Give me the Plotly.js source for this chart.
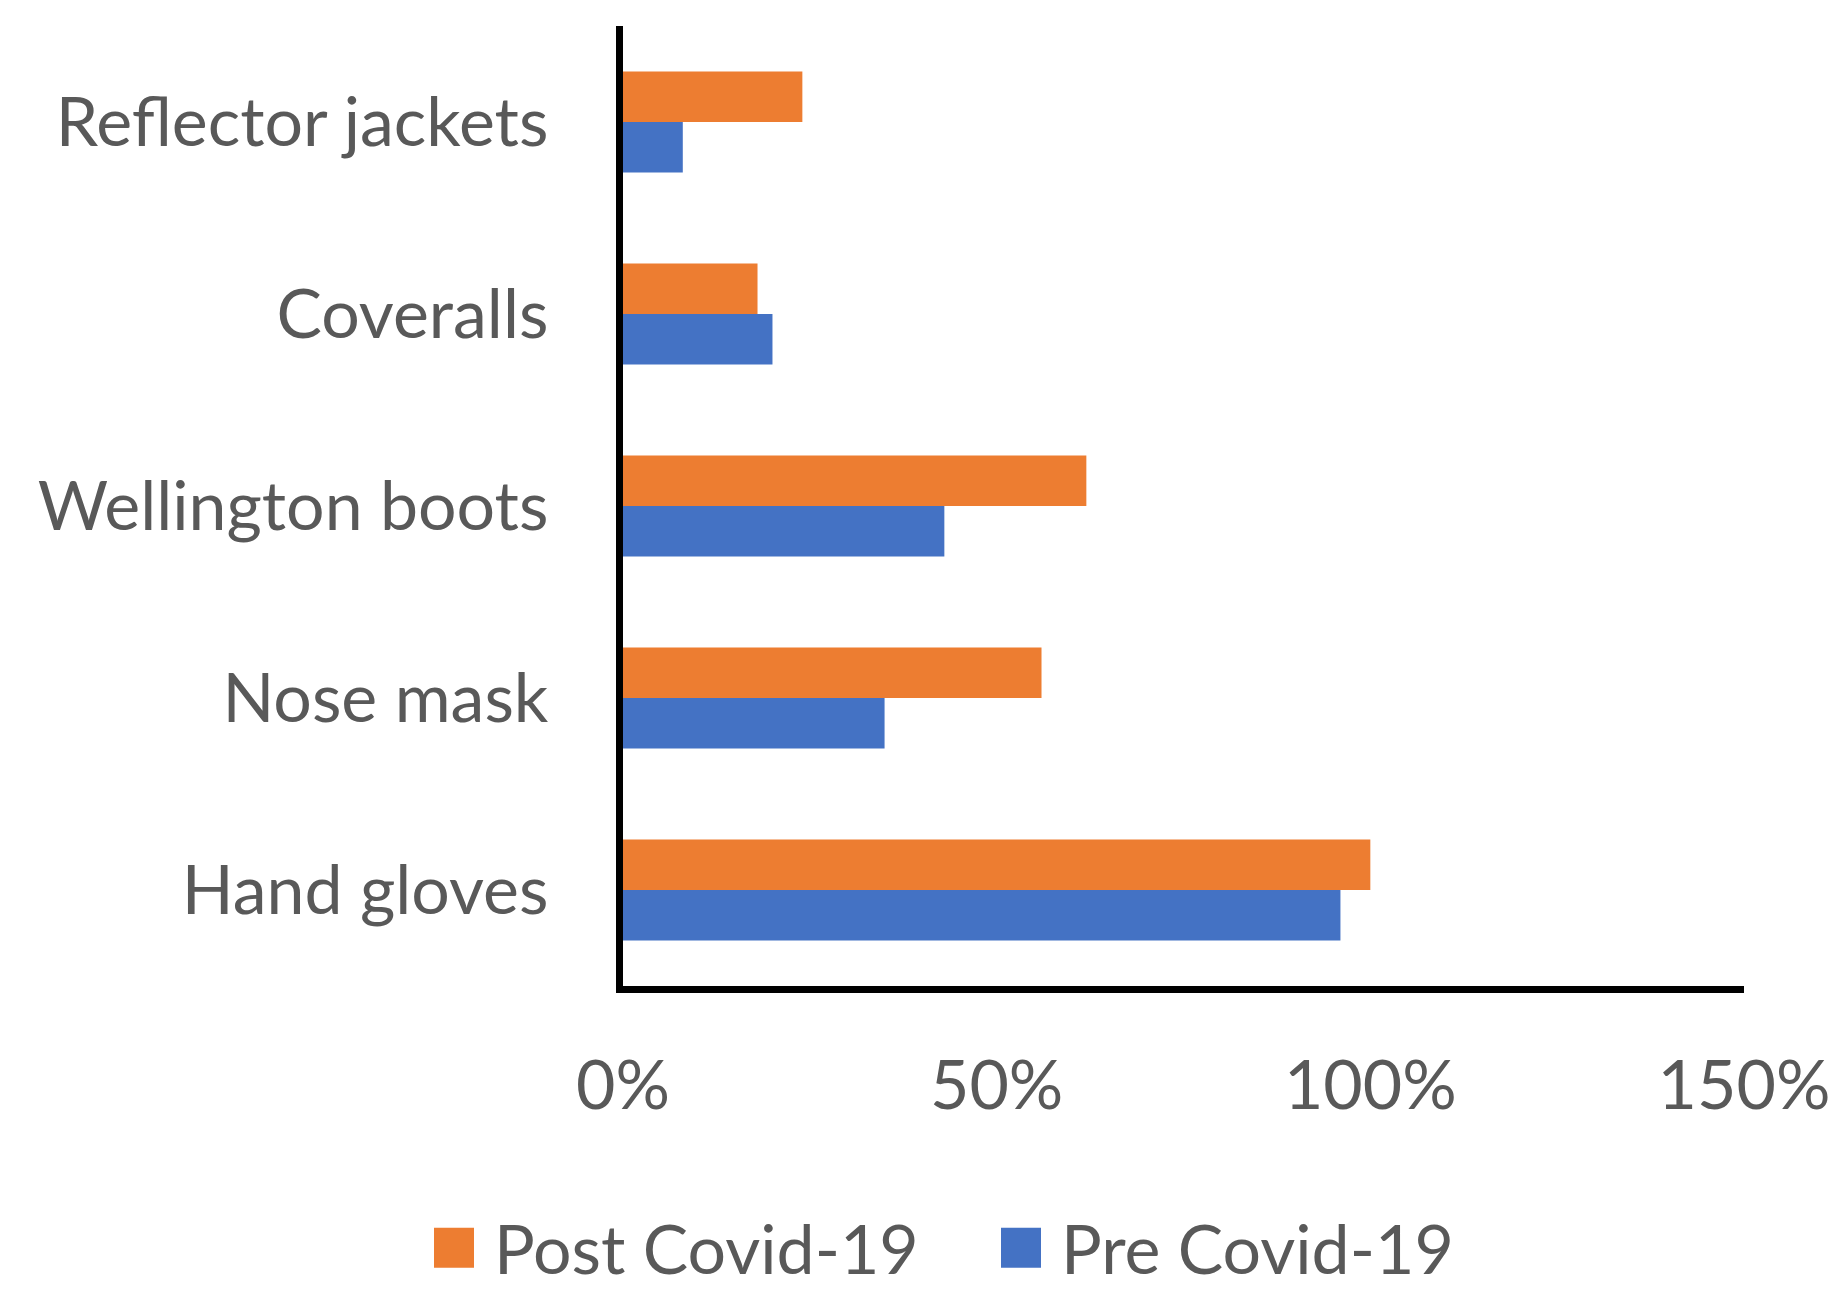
<!DOCTYPE html>
<html>
<head>
<meta charset="utf-8">
<script src="https://cdn.plot.ly/plotly-3.0.1.min.js"></script>
<style>
  html, body { margin: 0; padding: 0; background: #ffffff; }
  #chart { width: 1841px; height: 1302px; }
</style>
</head>
<body>
<div id="chart"></div>
<script>
// Categories listed bottom to top (as drawn)
const categories = ["Hand gloves", "Nose mask", "Wellington boots", "Coveralls", "Reflector jackets"];
const preCovid  = [0.96, 0.35, 0.43, 0.20, 0.08];
const postCovid = [1.00, 0.56, 0.62, 0.18, 0.24];
const seriesNames = ["Pre Covid-19", "Post Covid-19"];
const xTickVals = [0, 0.5, 1.0, 1.5];
const xTickText = ["0%", "50%", "100%", "150%"];

const FONT = "Lato, 'Open Sans', sans-serif";
const TXT = "#595959";

const traces = [
  {
    type: "bar", orientation: "h", name: seriesNames[0],
    y: categories, x: preCovid,
    marker: { color: "#4472C4" },
    hoverinfo: "x+y"
  },
  {
    type: "bar", orientation: "h", name: seriesNames[1],
    y: categories, x: postCovid,
    marker: { color: "#ED7D31" },
    hoverinfo: "x+y"
  }
];

const layout = {
  width: 1841, height: 1302,
  paper_bgcolor: "#ffffff", plot_bgcolor: "#ffffff",
  margin: { l: 623, r: 97, t: 26, b: 316, pad: 0, autoexpand: false },
  barmode: "group",
  bargap: 0.475,
  bargroupgap: 0,
  font: { family: FONT, color: TXT, size: 68 },
  showlegend: true,
  legend: {
    orientation: "h",
    traceorder: "reversed",
    xref: "paper", yref: "paper",
    x: (434 - 623) / 1121, xanchor: "left",
    y: (986 - 1248) / 960, yanchor: "middle",
    entrywidth: 522,
    font: { family: FONT, color: TXT, size: 68 },
    bgcolor: "rgba(0,0,0,0)"
  },
  xaxis: {
    range: [0, 1.5],
    tickvals: xTickVals, ticktext: xTickText,
    showgrid: false, zeroline: false,
    showline: true, linecolor: "#000000", linewidth: 7,
    ticks: "",
    ticklabelstandoff: 34,
    tickfont: { family: FONT, color: TXT, size: 68 },
    fixedrange: true
  },
  yaxis: {
    type: "category",
    categoryorder: "array", categoryarray: categories,
    showgrid: false, zeroline: false,
    showline: true, linecolor: "#000000", linewidth: 7,
    ticks: "",
    ticklabelstandoff: 54,
    tickfont: { family: FONT, color: TXT, size: 68 },
    fixedrange: true
  }
};

Plotly.newPlot("chart", traces, layout, { displayModeBar: false, staticPlot: true }).then(function (gd) {
  // enlarge legend swatches to match the reference's large square keys
  gd.querySelectorAll(".legend .legendpoints path").forEach(function (p) {
    p.setAttribute("d", "M20,20H-20V-20H20Z");
  });
  gd.querySelectorAll(".legend .legendtext").forEach(function (t) {
    t.setAttribute("x", "60");
    t.querySelectorAll("tspan").forEach(function (s) { if (s.hasAttribute("x")) s.setAttribute("x", "60"); });
  });
});
</script>
</body>
</html>
